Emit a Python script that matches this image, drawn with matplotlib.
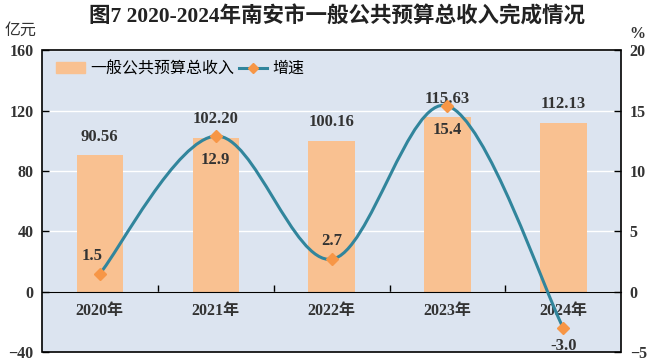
import matplotlib.pyplot as plt
from matplotlib.path import Path
from matplotlib.patches import PathPatch, Rectangle
from matplotlib.lines import Line2D
import numpy as np

plt.rcParams['font.family'] = ['Liberation Serif', 'Noto Sans CJK SC', 'DejaVu Sans']

years = ['2020年', '2021年', '2022年', '2023年', '2024年']
revenue = [90.56, 102.20, 100.16, 115.63, 112.13]
growth = [1.5, 12.9, 2.7, 15.4, -3.0]
revenue_labels = ['90.56', '102.20', '100.16', '115.63', '112.13']
growth_labels = ['1.5', '12.9', '2.7', '15.4', '-3.0']

bar_color = '#F9C191'
line_color = '#31859C'
marker_color = '#F79646'
bg_color = '#DCE4F0'
text_color = '#333333'

fig = plt.figure(figsize=(6.54, 3.58), dpi=100)
ax = fig.add_axes([0.064, 0.016, 0.886, 0.8436])
ax.set_facecolor(bg_color)
x = np.arange(len(years))

# bars
ax.bar(x, revenue, width=0.4, color=bar_color, zorder=2)
ax.set_xlim(-0.5, 4.5)
ax.set_ylim(-40, 160)
ax.set_yticks(range(-40, 161, 40))
ax.grid(axis='y', color='white', lw=1.0, zorder=1)
ax.set_axisbelow(True)

# x axis sits on the 0 line, with ticks between categories
for s in ['top', 'right', 'left']:
    ax.spines[s].set_visible(False)
ax.spines['bottom'].set_position(('data', 0))
ax.spines['bottom'].set_color('black')
ax.spines['bottom'].set_zorder(3)
ax.set_xticks(x[:-1] + 0.5)
ax.set_xticklabels([])
ax.set_xticks(x, minor=True)
ax.set_xticklabels(years, minor=True)
ax.tick_params(axis='x', which='major', direction='in', length=5, width=1, color='black')
ax.tick_params(axis='x', which='minor', length=0, pad=8, labelsize=11.5, labelcolor=text_color)
for lbl in ax.get_xticklabels(minor=True):
    lbl.set_fontweight('bold')
ax.tick_params(axis='y', direction='in', length=5, width=1, pad=6, labelsize=11.5, labelcolor=text_color)
for lbl in ax.get_yticklabels():
    lbl.set_fontweight('bold')

ax.add_patch(Rectangle((0, 0), 1, 1, transform=ax.transAxes, fill=False,
                       edgecolor='black', lw=1.2, zorder=5, clip_on=False))

for xi, v, t in zip(x, revenue, revenue_labels):
    ax.text(xi, v + 7, t, ha='center', va='bottom', fontsize=12, fontweight='bold', color=text_color, zorder=6)

# growth line on right axis, smoothed like Excel
ax2 = ax.twinx()
ax2.set_ylim(-5, 20)
ax2.set_yticks(range(-5, 21, 5))
for s in ax2.spines.values():
    s.set_visible(False)
ax2.tick_params(axis='y', direction='in', length=5, width=1, pad=6, labelsize=11.5, labelcolor=text_color)
for lbl in ax2.get_yticklabels():
    lbl.set_fontweight('bold')

pts = np.column_stack([x, growth]).astype(float)
ext = np.vstack([pts[0], pts, pts[-1]])
verts = [pts[0]]
codes = [Path.MOVETO]
for i in range(len(pts) - 1):
    p0, p1, p2, p3 = ext[i], ext[i + 1], ext[i + 2], ext[i + 3]
    c1 = p1 + (p2 - p0) / 6
    c2 = p2 - (p3 - p1) / 6
    verts += [c1, c2, p2]
    codes += [Path.CURVE4] * 3
ax2.add_patch(PathPatch(Path(verts, codes), fill=False, edgecolor=line_color, lw=2.2, zorder=3))
ax2.plot(x, growth, linestyle='none', marker='D', markersize=6, color=marker_color, zorder=4)

offsets = [(-0.07, 1.5), (0, -2.0), (0, 1.5), (0, -2.0), (0, -1.5)]
for xi, v, t, (dx, dy) in zip(x, growth, growth_labels, offsets):
    ax2.text(xi + dx, v + dy, t, ha='center', va='center', fontsize=12, fontweight='bold', color=text_color, zorder=6)

# legend
handles = [Rectangle((0, 0), 1, 1, color=bar_color),
           Line2D([], [], color=line_color, lw=2.2, marker='D', markersize=5,
                  markerfacecolor=marker_color, markeredgecolor=marker_color)]
ax.legend(handles, ['一般公共预算总收入', '增速'], loc='upper left', bbox_to_anchor=(0.0, 1.015),
          ncol=2, frameon=False, handlelength=1.8, handletextpad=0.3,
          columnspacing=0.3, prop={'family': ['Noto Sans CJK SC'], 'size': 11.5})

fig.text(0.515, 0.952, '图7 2020-2024年南安市一般公共预算总收入完成情况', ha='center', va='center',
         fontsize=15.5, fontweight='bold', color='#222222')
fig.text(0.032, 0.915, '亿元', ha='center', va='center', fontsize=11.5, color=text_color,
         family=['Noto Sans CJK SC'])
fig.text(0.975, 0.905, '%', ha='center', va='center', fontsize=11.5, fontweight='bold', color=text_color)

fig.savefig('out.png', dpi=100)
